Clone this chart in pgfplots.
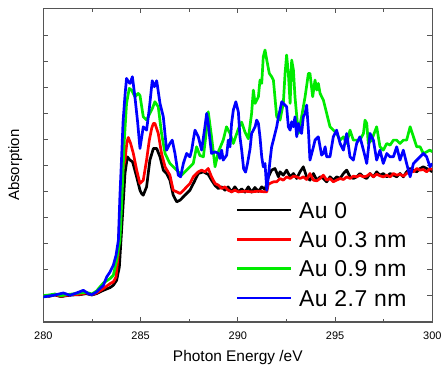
\documentclass[border=0pt]{standalone}
\usepackage{fontspec}
\setmainfont{Liberation Sans}
\newfontfamily\legfont[LetterSpace=2]{Liberation Sans}
\usepackage{pgfplots}
\pgfplotsset{compat=1.18}
\definecolor{axgray}{RGB}{85,85,85}
\definecolor{cgreen}{RGB}{0,235,0}
\definecolor{cblue}{RGB}{0,0,255}
\definecolor{cred}{RGB}{255,0,0}
\begin{document}
\begin{tikzpicture}
\useasboundingbox (-43.3bp,-45bp) rectangle (397.7bp,322bp);
\begin{axis}[
  at={(0,0)}, anchor=south west,
  scale only axis, width=389bp, height=313.7bp,
  xmin=280, xmax=300, ymin=-79, ymax=861,
  xtick={280,285,...,300}, minor x tick num=1,
  ytick={0,78,...,780}, yticklabels={},
  tick align=inside,
  major tick length=5bp, minor tick length=3.5bp,
  every tick/.style={axgray, line width=0.8bp},
  axis line style={axgray, line width=1.2bp},
  /pgf/number format/assume math mode=true,
  /pgf/number format/1000 sep={},
  xticklabel style={font=\fontsize{11}{13}\selectfont, anchor=base, yshift=-17.3bp},
  xlabel={Photon Energy /eV},
  xlabel style={font=\fontsize{15.5}{18}\selectfont, at={(axis description cs:0.5,-0.1265)}, anchor=base},
  ylabel={Absorption},
  ylabel style={font=\fontsize{15}{18}\selectfont, at={(axis description cs:-0.072,0.5)}, anchor=center},
  legend cell align=left,
  legend image code/.code={\draw[#1] (0bp,0bp) -- (54bp,0bp); \path[draw=none] (0bp,0bp) -- (62bp,0bp);},
  legend style={draw=none, fill=none, at={(axis description cs:0.495,0.383)}, anchor=north west,
    inner sep=0pt, outer sep=0pt, row sep=12.8bp, font=\legfont\fontsize{23}{27}\selectfont,
    nodes={inner sep=0pt, text height=16.5bp, text depth=0bp}},
  every axis plot/.append style={line width=2.7bp, line join=round},
]
\addplot[black] coordinates {
(280.0,0) (280.3,-2) (280.6,2) (280.9,-3) (281.2,0) (281.5,2) (281.9,3) (282.2,6) (282.5,2) (282.74,6)
(283.09,16) (283.43,24) (283.6,31) (283.77,46) (283.91,86) (284.03,200) (284.2,366) (284.32,416) (284.46,406) (284.59,401)
(284.8,356) (284.97,316) (285.05,306) (285.14,301) (285.31,326) (285.48,406) (285.66,441) (285.83,441) (286.0,416) (286.17,376)
(286.34,366) (286.51,346) (286.68,301) (286.86,281) (287.03,286) (287.28,301) (287.54,316) (287.75,340) (287.97,366) (288.23,371)
(288.48,363) (288.65,346) (288.83,330) (289.0,321) (289.17,326) (289.34,316) (289.5,326) (289.68,311) (289.85,326) (290.03,311)
(290.2,320) (290.37,310) (290.54,326) (290.71,310) (290.88,324) (291.06,312) (291.23,326) (291.4,318) (291.49,336) (291.57,356)
(291.74,376) (291.91,381) (292.09,356) (292.17,371) (292.34,361) (292.51,376) (292.69,356) (292.86,366) (293.03,351) (293.2,371)
(293.37,386) (293.54,356) (293.71,346) (293.89,366) (294.06,346) (294.23,356) (294.4,351) (294.57,341) (294.74,356) (294.91,346)
(295.08,356) (295.26,351) (295.43,366) (295.6,376) (295.77,356) (295.94,351) (296.11,356) (296.28,366) (296.46,356) (296.63,351)
(296.8,366) (296.97,356) (297.14,371) (297.31,361) (297.48,366) (297.66,356) (297.83,366) (298.0,361) (298.17,356) (298.34,366)
(298.51,356) (298.68,371) (298.86,381) (299.03,376) (299.2,371) (299.37,381) (299.54,386) (299.71,381) (299.88,376) (300.0,371)
};
\addlegendentry{Au 0}
\addplot[cred] coordinates {
(280.0,0) (280.3,-1) (280.6,3) (280.9,-2) (281.2,1) (281.5,3) (281.9,4) (282.2,8) (282.5,3) (282.74,8)
(283.09,21) (283.43,36) (283.6,41) (283.74,56) (283.85,120) (283.94,256) (284.1,380) (284.2,406) (284.3,460) (284.37,474)
(284.49,456) (284.63,426) (284.8,376) (284.97,336) (285.14,346) (285.31,406) (285.45,466) (285.57,501) (285.66,516) (285.74,516)
(285.91,486) (286.08,426) (286.26,386) (286.51,361) (286.68,316) (286.86,311) (287.03,306) (287.2,315) (287.37,326) (287.54,336)
(287.71,356) (287.97,371) (288.14,376) (288.31,371) (288.48,381) (288.65,356) (288.83,336) (289.0,331) (289.17,321) (289.34,326)
(289.5,316) (289.68,311) (289.85,316) (290.03,311) (290.37,313) (290.71,311) (291.06,313) (291.4,311) (291.49,311) (291.57,334)
(291.83,341) (292.0,341) (292.17,351) (292.34,346) (292.51,356) (292.69,351) (292.86,358) (293.03,356) (293.2,351) (293.37,356)
(293.54,348) (293.71,366) (293.89,346) (294.06,344) (294.23,351) (294.4,361) (294.57,346) (294.74,351) (294.91,341) (295.08,346)
(295.26,351) (295.43,348) (295.6,356) (295.77,351) (295.94,358) (296.11,356) (296.28,361) (296.46,356) (296.63,358) (296.8,366)
(296.97,356) (297.14,364) (297.31,359) (297.48,356) (297.66,361) (297.83,356) (298.0,366) (298.17,361) (298.34,364) (298.51,358)
(298.68,366) (298.86,376) (299.03,371) (299.2,381) (299.37,376) (299.54,378) (299.71,371) (299.88,381) (300.0,378)
};
\addlegendentry{Au 0.3 nm}
\addplot[cgreen] coordinates {
(280.0,0) (280.3,2) (280.6,5) (280.9,0) (281.2,3) (281.5,5) (281.9,8) (282.2,10) (282.5,5) (282.74,14)
(282.91,26) (283.09,38) (283.43,51) (283.6,61) (283.77,106) (283.94,166) (284.05,300) (284.15,450) (284.28,576) (284.42,621)
(284.54,616) (284.71,596) (284.88,606) (284.97,600) (285.14,536) (285.31,526) (285.48,546) (285.6,560) (285.74,581) (285.91,566)
(286.08,486) (286.26,426) (286.51,396) (286.86,376) (287.11,361) (287.37,376) (287.54,386) (287.71,396) (287.88,446) (288.05,420)
(288.23,416) (288.4,500) (288.48,551) (288.65,476) (288.83,386) (289.0,431) (289.25,466) (289.42,506) (289.6,486) (289.77,456)
(290.03,500) (290.2,520) (290.37,490) (290.54,470) (290.71,546) (290.8,616) (290.89,576) (291.06,596) (291.14,646) (291.23,636)
(291.31,716) (291.4,736) (291.49,706) (291.62,666) (291.74,656) (291.83,646) (292.0,536) (292.17,526) (292.34,576) (292.43,666)
(292.51,721) (292.6,666) (292.69,576) (292.77,706) (292.86,676) (292.94,596) (293.11,486) (293.28,536) (293.46,596) (293.63,666)
(293.71,666) (293.85,596) (293.97,646) (294.06,616) (294.14,636) (294.23,606) (294.4,586) (294.57,546) (294.74,506) (294.91,496)
(295.08,486) (295.26,466) (295.43,476) (295.6,456) (295.77,496) (295.94,466) (296.11,466) (296.28,466) (296.46,486) (296.54,526)
(296.63,516) (296.71,456) (296.88,466) (297.14,506) (297.31,446) (297.48,436) (297.66,456) (297.83,451) (298.0,466) (298.17,466)
(298.34,456) (298.51,466) (298.68,466) (298.86,506) (299.03,476) (299.2,446) (299.37,446) (299.54,426) (299.71,431) (299.88,436) (300.0,431)
};
\addlegendentry{Au 0.9 nm}
\addplot[cblue] coordinates {
(280.0,-4) (280.52,1) (281.03,8) (281.37,1) (281.71,8) (282.06,16) (282.31,6) (282.49,3) (282.74,11) (282.91,21)
(283.09,31) (283.26,56) (283.43,71) (283.6,91) (283.74,121) (283.86,166) (283.94,300) (284.03,420) (284.1,520) (284.2,600)
(284.28,651) (284.38,640) (284.46,636) (284.58,656) (284.71,596) (284.85,520) (284.97,441) (285.14,506) (285.31,496) (285.45,560)
(285.6,644) (285.71,626) (285.83,644) (286.0,576) (286.17,536) (286.34,436) (286.51,456) (286.63,466) (286.77,426) (286.94,361)
(287.06,356) (287.2,396) (287.37,426) (287.54,416) (287.63,436) (287.71,466) (287.8,496) (287.97,476) (288.14,436) (288.31,506)
(288.4,546) (288.48,516) (288.57,466) (288.65,426) (288.83,431) (289.0,426) (289.08,411) (289.17,436) (289.25,406) (289.43,421)
(289.51,466) (289.6,446) (289.68,516) (289.77,556) (289.9,581) (290.03,550) (290.11,476) (290.2,436) (290.3,380) (290.4,370)
(290.5,396) (290.63,440) (290.71,486) (290.8,496) (290.89,506) (290.97,526) (291.06,516) (291.14,476) (291.23,416) (291.31,386)
(291.4,396) (291.49,316) (291.57,356) (291.66,406) (291.74,446) (291.83,466) (292.0,506) (292.09,536) (292.17,556) (292.26,581)
(292.34,576) (292.51,566) (292.6,506) (292.69,496) (292.77,521) (292.86,506) (292.94,536) (293.03,476) (293.11,516) (293.2,496)
(293.28,486) (293.37,536) (293.46,546) (293.54,571) (293.63,496) (293.71,406) (293.89,446) (293.97,466) (294.14,476) (294.23,446)
(294.31,421) (294.4,426) (294.49,446) (294.57,416) (294.74,416) (294.91,476) (295.08,496) (295.26,456) (295.43,436) (295.6,486)
(295.77,416) (295.94,406) (296.11,456) (296.28,476) (296.46,436) (296.63,396) (296.8,486) (296.97,466) (297.14,406) (297.31,436)
(297.48,396) (297.66,426) (297.83,416) (298.0,416) (298.17,446) (298.34,406) (298.51,436) (298.68,396) (298.86,356) (299.03,396)
(299.2,406) (299.37,416) (299.54,426) (299.71,416) (299.88,386) (300.0,396)
};
\addlegendentry{Au 2.7 nm}
\end{axis}
\end{tikzpicture}
\end{document}
